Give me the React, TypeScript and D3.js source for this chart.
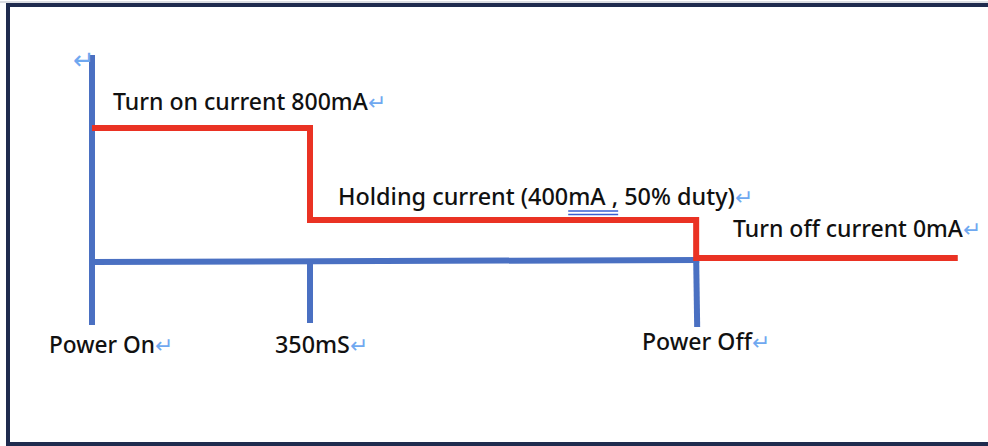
import React, { useEffect, useRef } from "react";
import * as d3 from "d3";

// Schematic timeline (ms) and current levels (mA)
const stageTimes = [0, 350, 970, 1390];
const stageCurrents = [800, 400, 0];
const eventTimes = [0, 350, 970];
const eventLabels = ["Power On", "350mS", "Power Off"];
const stageLabels = [
  "Turn on current 800mA",
  "Holding current (400mA , 50% duty)",
  "Turn off current 0mA",
];

const W = 988;
const H = 446;
const FONT = "'Noto Sans', 'Open Sans', sans-serif";
const BLUE = "#4a70c2";
const RED = "#ea3223";
const RET = "#6fa8f0";

export default function App() {
  const ref = useRef<SVGSVGElement | null>(null);

  useEffect(() => {
    const svg = d3.select(ref.current);
    svg.selectAll("*").remove();

    const x = d3.scaleLinear().domain([0, 350]).range([92, 310]);
    const y = d3.scaleLinear().domain([0, 400, 800]).range([258, 220, 128]);
    const baseY = 262;

    // frame
    svg.append("line").attr("x1", 0).attr("x2", W).attr("y1", 2).attr("y2", 2)
      .attr("stroke", "#b8bcc6").attr("stroke-width", 1);
    svg.append("rect").attr("x", 8).attr("y", 5).attr("width", W + 20).attr("height", 439)
      .attr("fill", "none").attr("stroke", "#1f2b4e").attr("stroke-width", 4);

    // blue axes
    const g = svg.append("g").attr("stroke", BLUE).attr("stroke-width", 6).attr("fill", "none");
    g.append("line").attr("x1", x(0)).attr("x2", x(0)).attr("y1", 55).attr("y2", 325);
    g.append("line").attr("x1", x(0)).attr("x2", x(eventTimes[2]) + 3).attr("y1", baseY).attr("y2", 260);
    g.append("line").attr("x1", x(350)).attr("x2", x(350)).attr("y1", baseY).attr("y2", 323);
    g.append("line").attr("x1", x(eventTimes[2])).attr("x2", x(eventTimes[2]) + 1).attr("y1", 258).attr("y2", 327);

    // red current waveform
    const pts: [number, number][] = [];
    stageCurrents.forEach((c, i) => {
      pts.push([x(stageTimes[i]), y(c)]);
      pts.push([x(stageTimes[i + 1]), y(c)]);
    });
    const line = d3.line<[number, number]>().x((d) => d[0]).y((d) => d[1]);
    svg.append("path").attr("d", line(pts)).attr("fill", "none")
      .attr("stroke", RED).attr("stroke-width", 6).attr("stroke-linejoin", "miter");

    // labels
    const addLabel = (txt: string, lx: number, ly: number, w: number) => {
      const t = svg.append("text").attr("x", lx).attr("y", ly)
        .attr("font-family", FONT).attr("font-size", 23).attr("font-weight", 500)
        .attr("fill", "#111");
      const main = t.append("tspan").text(txt);
      const n = main.node() as SVGTextContentElement;
      const cur = n.getComputedTextLength();
      main.attr("font-size", 23 * w / cur);
      t.append("tspan").attr("fill", RET).attr("font-size", 22).attr("font-weight", 400).text("↵");
      return t;
    };
    addLabel(stageLabels[0], 113, 110, 255);
    const hold = addLabel(stageLabels[1], 338, 205, 397);
    addLabel(stageLabels[2], 733, 237, 230);

    // double underline under "mA ,"
    const holdNode = hold.select("tspan").node() as SVGTextContentElement;
    const s = stageLabels[1].indexOf("mA");
    const sx = holdNode.getStartPositionOfChar(s).x;
    const ex = holdNode.getEndPositionOfChar(s + 3).x;
    [211, 214.5].forEach((uy) => {
      svg.append("line").attr("x1", sx).attr("x2", ex).attr("y1", uy).attr("y2", uy)
        .attr("stroke", "#3a5fd0").attr("stroke-width", 1.3);
    });

    const evX = [49, 275, 642];
    const evY = [353, 353, 350];
    const evW = [106, 75, 110];
    eventLabels.forEach((lab, i) => addLabel(lab, evX[i], evY[i], evW[i]));

    // return mark at top of axis
    svg.append("text").attr("x", 73).attr("y", 69).attr("font-family", FONT)
      .attr("font-size", 26).attr("fill", RET).text("↵");
  }, []);

  return (
    <svg ref={ref} width={W} height={H}
      style={{ position: "absolute", left: 0, top: 0, background: "#fff" }} />
  );
}
